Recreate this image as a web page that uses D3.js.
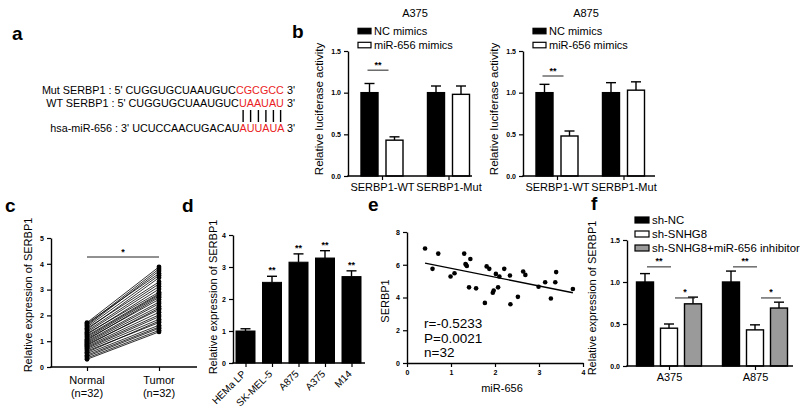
<!DOCTYPE html>
<html><head><meta charset="utf-8">
<script src="https://cdn.jsdelivr.net/npm/d3@7"></script>
<style>body{margin:0;background:#fff;} svg text{font-family:Arial,"Liberation Sans",sans-serif;fill:#000;}</style>
</head><body>
<svg id="fig" width="800" height="409"></svg>
<script>
// ---------------- DATA ----------------
// panel a: sequences [prefix, red part, suffix]
const seqMut = ["Mut SERBP1 : 5' CUGGUGCUAAUGUC", "CGCGCC", " 3'"];
const seqWT  = ["WT SERBP1 : 5' CUGGUGCUAAUGUC", "UAAUAU", " 3'"];
const seqMiR = ["hsa-miR-656 : 3' UCUCCAACUGACAU", "AUUAUA", " 3'"];

// panel b
const bGroups = ["SERBP1-WT", "SERBP1-Mut"];
const bSeries = ["NC mimics", "miR-656 mimics"];
const bA375Values = [[1.00, 0.43], [1.00, 0.98]];
const bA375Errors = [[0.11, 0.04], [0.08, 0.10]];
const bA875Values = [[1.00, 0.48], [1.00, 1.03]];
const bA875Errors = [[0.10, 0.06], [0.12, 0.10]];
const bTicks = [0, 0.5, 1.0, 1.5];

// panel c
const cCategories = ["Normal", "Tumor"];
const cNormal = [1.72,1.69,1.64,1.60,1.55,1.50,1.45,1.40,1.35,1.30,1.26,1.21,1.17,1.12,1.08,1.04,1.00,0.96,0.92,0.88,0.84,0.80,0.76,0.72,0.67,0.62,0.57,0.52,0.46,0.41,0.35,0.30];
const cTumor  = [3.88,3.62,3.80,3.72,3.55,3.30,3.46,3.22,3.12,2.90,3.02,2.84,2.80,2.75,2.62,2.70,2.52,2.45,2.35,2.22,2.28,2.12,2.02,1.95,1.85,1.72,1.78,1.62,1.55,1.50,1.42,1.36];
const cTicks = [0, 1, 2, 3, 4, 5];

// panel d
const dCells = ["HEMa LP", "SK-MEL-5", "A875", "A375", "M14"];
const dValues = [1.00, 2.52, 3.15, 3.28, 2.70];
const dErrors = [0.07, 0.19, 0.26, 0.23, 0.18];
const dSig = ["", "**", "**", "**", "**"];
const dTicks = [0, 1, 2, 3, 4];

// panel e
const eMiR = [0.41,0.58,0.71,0.99,1.08,1.30,1.33,1.34,1.36,1.44,1.41,1.57,1.77,1.81,1.87,1.95,1.97,2.02,2.07,2.10,2.21,2.35,2.34,2.52,2.64,2.69,2.99,3.14,3.27,3.37,3.39,3.77];
const eSERBP1 = [6.99,5.75,6.68,5.28,5.48,6.68,6.05,6.00,5.92,6.35,4.62,4.56,3.67,5.90,5.75,4.29,4.43,5.44,4.62,5.28,5.75,3.59,5.34,4.04,5.59,5.38,4.66,4.93,3.94,4.93,5.55,4.52];
const eXTicks = [0, 1, 2, 3, 4];
const eYTicks = [0, 2, 4, 6, 8];
const eStats = ["r=-0.5233", "P=0.0021", "n=32"];

// panel f
const fGroups = ["A375", "A875"];
const fSeries = ["sh-NC", "sh-SNHG8", "sh-SNHG8+miR-656 inhibitor"];
const fValues = [[1.00, 0.45, 0.74], [1.00, 0.43, 0.69]];
const fErrors = [[0.10, 0.05, 0.08], [0.13, 0.06, 0.07]];
const fTicks = [0, 0.5, 1.0, 1.5];

// ---------------- DRAWING ----------------
const svg = d3.select("#fig");
const RED = "#ea1d24";
const FONT = "Arial, 'Liberation Sans', sans-serif";

function panelLabel(t, x, y) {
  svg.append("text").attr("x", x).attr("y", y).attr("font-size", 19).attr("font-weight", "bold").attr("fill", "#000").text(t);
}
function styleYAxis(g) {
  g.select(".domain").attr("stroke", "#000").attr("stroke-width", 1.4);
  g.selectAll(".tick line").attr("stroke", "#000").attr("stroke-width", 1.2);
  g.selectAll(".tick text").attr("font-size", 7).attr("font-weight", "bold").attr("fill", "#000").attr("font-family", FONT);
}
function yAxis(scale, x, ticks, fmt) {
  const g = svg.append("g").attr("transform", `translate(${x},0)`);
  g.call(d3.axisLeft(scale).tickValues(ticks).tickFormat(fmt).tickSize(4).tickSizeOuter(0).tickPadding(3));
  styleYAxis(g);
  return g;
}
function xBaseline(x0, x1, y) {
  svg.append("line").attr("x1", x0 - 0.7).attr("x2", x1).attr("y1", y).attr("y2", y).attr("stroke", "#000").attr("stroke-width", 1.4);
}
function xTicks(scale, y, fontSize, label = true) {
  const g = svg.append("g").attr("transform", `translate(0,${y})`);
  g.call(d3.axisBottom(scale).tickSize(4).tickPadding(3));
  g.select(".domain").remove();
  g.selectAll(".tick line").attr("stroke", "#000").attr("stroke-width", 1.2);
  g.selectAll(".tick text").attr("font-size", fontSize).attr("fill", "#000").attr("font-family", FONT);
  if (!label) g.selectAll(".tick text").remove();
  return g;
}
function yLabel(t, x, cy, size) {
  svg.append("text").attr("transform", `translate(${x},${cy}) rotate(-90)`).attr("text-anchor", "middle")
    .attr("font-size", size).attr("fill", "#000").text(t);
}
function sigMark(x0, x1, y, t) {
  svg.append("line").attr("x1", x0).attr("x2", x1).attr("y1", y).attr("y2", y).attr("stroke", "#222").attr("stroke-width", 1);
  svg.append("text").attr("x", (x0 + x1) / 2).attr("y", y - 2.5).attr("text-anchor", "middle")
    .attr("font-size", 9).attr("font-weight", "bold").attr("fill", "#000").text(t);
}
function errBar(cx, yTop, yErr, cap) {
  svg.append("line").attr("x1", cx).attr("x2", cx).attr("y1", yTop).attr("y2", yErr).attr("stroke", "#000").attr("stroke-width", 1.4);
  svg.append("line").attr("x1", cx - cap / 2).attr("x2", cx + cap / 2).attr("y1", yErr).attr("y2", yErr).attr("stroke", "#000").attr("stroke-width", 1.4);
}

// ----- panel a -----
panelLabel("a", 12, 40);
const seqRows = [[seqMut, 94], [seqWT, 107], [seqMiR, 132]];
const seqTexts = seqRows.map(([s, y]) => {
  const t = svg.append("text").attr("x", 295).attr("y", y).attr("text-anchor", "end").attr("font-size", 10.8).attr("fill", "#000");
  t.append("tspan").text(s[0]);
  t.append("tspan").attr("fill", RED).text(s[1]);
  t.append("tspan").text(s[2]);
  return t;
});
{
  const node = seqTexts[2].node();
  const start = seqMiR[0].length;
  for (let i = 0; i < seqMiR[1].length; i++) {
    const ext = node.getExtentOfChar(start + i);
    const cx = ext.x + ext.width / 2;
    svg.append("line").attr("x1", cx).attr("x2", cx).attr("y1", 110).attr("y2", 122).attr("stroke", "#000").attr("stroke-width", 1.4);
  }
}

// ----- panel b -----
panelLabel("b", 292, 38);
function bPanel(opts) {
  const { ax, axEnd, title, titleX, values, errors, legX } = opts;
  const y = d3.scaleLinear().domain([0, 1.5]).range([176, 51]);
  const gx = d3.scalePoint().domain(bGroups).range([ax + 34, ax + 100.5]);
  const sx = d3.scalePoint().domain(bSeries).range([-12.5, 12.5]);
  const bw = 17;
  svg.append("text").attr("x", titleX).attr("y", 17).attr("text-anchor", "middle").attr("font-size", 11).attr("fill", "#000").text(title);
  bSeries.forEach((s, i) => {
    svg.append("rect").attr("x", legX).attr("y", 28.3 + i * 14).attr("width", 13).attr("height", 5.5)
      .attr("fill", i === 0 ? "#000" : "#fff").attr("stroke", "#000").attr("stroke-width", 1.2);
    svg.append("text").attr("x", legX + 16).attr("y", 31 + i * 14).attr("dy", "0.35em").attr("font-size", 11).attr("fill", "#000").text(s);
  });
  bGroups.forEach((g, gi) => {
    bSeries.forEach((s, si) => {
      const cx = gx(g) + sx(s);
      const v = values[gi][si], e = errors[gi][si];
      errBar(cx, y(v), y(v + e), 10);
      svg.append("rect").attr("x", cx - bw / 2).attr("y", y(v)).attr("width", bw).attr("height", y(0) - y(v))
        .attr("fill", si === 0 ? "#000" : "#fff").attr("stroke", "#000").attr("stroke-width", 1.4);
    });
  });
  yAxis(y, ax, bTicks, d3.format(".1f"));
  xBaseline(ax, axEnd, y(0));
  xTicks(gx, y(0), 11);
  yLabel("Relative luciferase activity", ax - 25, 109, 11.5);
  return { y, gx, sx };
}
const bL = bPanel({ ax: 348, axEnd: 472, title: "A375", titleX: 415, values: bA375Values, errors: bA375Errors, legX: 358 });
sigMark(bL.gx(bGroups[0]) + bL.sx(bSeries[0]) - 2, bL.gx(bGroups[0]) + bL.sx(bSeries[1]) - 6, bL.y(1.27), "**");
const bR = bPanel({ ax: 523, axEnd: 655, title: "A875", titleX: 586, values: bA875Values, errors: bA875Errors, legX: 533 });
sigMark(bR.gx(bGroups[0]) + bR.sx(bSeries[0]) - 2, bR.gx(bGroups[0]) + bR.sx(bSeries[1]) - 6, bR.y(1.2), "**");

// ----- panel c -----
panelLabel("c", 5, 212);
{
  const y = d3.scaleLinear().domain([0, 5]).range([367, 238]);
  const x = d3.scalePoint().domain(cCategories).range([87, 159]);
  cNormal.forEach((n, i) => {
    svg.append("line").attr("x1", x("Normal")).attr("x2", x("Tumor")).attr("y1", y(n)).attr("y2", y(cTumor[i]))
      .attr("stroke", "#000").attr("stroke-width", 0.8);
  });
  cNormal.forEach(n => svg.append("circle").attr("cx", x("Normal")).attr("cy", y(n)).attr("r", 2.4).attr("fill", "#000"));
  cTumor.forEach(t => svg.append("circle").attr("cx", x("Tumor")).attr("cy", y(t)).attr("r", 2.4).attr("fill", "#000"));
  yAxis(y, 51, cTicks, d3.format("d"));
  xBaseline(51, 197, y(0));
  xTicks(x, y(0), 11, false);
  cCategories.forEach(c => {
    svg.append("text").attr("x", x(c)).attr("y", 384).attr("text-anchor", "middle").attr("font-size", 11).attr("fill", "#000").text(c);
    svg.append("text").attr("x", x(c)).attr("y", 397).attr("text-anchor", "middle").attr("font-size", 11).attr("fill", "#000").text("(n=32)");
  });
  sigMark(x("Normal"), x("Tumor"), 257, "*");
  yLabel("Relative expression of SERBP1", 32, 295, 11);
}

// ----- panel d -----
panelLabel("d", 182, 212);
{
  const y = d3.scaleLinear().domain([0, 4]).range([363, 235]);
  const x = d3.scalePoint().domain(dCells).range([245.5, 351.5]);
  const bw = 19;
  dCells.forEach((c, i) => {
    const v = dValues[i], e = dErrors[i];
    errBar(x(c), y(v), y(v + e), 10);
    svg.append("rect").attr("x", x(c) - bw / 2).attr("y", y(v)).attr("width", bw).attr("height", y(0) - y(v))
      .attr("fill", "#000").attr("stroke", "#000").attr("stroke-width", 1);
    if (dSig[i]) svg.append("text").attr("x", x(c)).attr("y", y(v + e) - 3).attr("text-anchor", "middle")
      .attr("font-size", 9).attr("font-weight", "bold").attr("fill", "#000").text(dSig[i]);
  });
  yAxis(y, 233, dTicks, d3.format("d"));
  xBaseline(233, 365, y(0));
  const g = xTicks(x, y(0), 10);
  g.selectAll(".tick text").attr("text-anchor", "end").attr("x", 0).attr("y", 0).attr("dy", "0.35em")
    .attr("transform", "translate(-2,9) rotate(-45)");
  yLabel("Relative expression of SERBP1", 217, 297, 11);
}

// ----- panel e -----
panelLabel("e", 368, 211);
{
  const x = d3.scaleLinear().domain([0, 4]).range([407, 583]);
  const y = d3.scaleLinear().domain([0, 8]).range([363, 232]);
  const mx = d3.mean(eMiR), my = d3.mean(eSERBP1);
  const slope = d3.sum(eMiR, (v, i) => (v - mx) * (eSERBP1[i] - my)) / d3.sum(eMiR, v => (v - mx) ** 2);
  const icpt = my - slope * mx;
  const [xmin, xmax] = d3.extent(eMiR);
  svg.append("line").attr("x1", x(xmin)).attr("x2", x(xmax)).attr("y1", y(icpt + slope * xmin)).attr("y2", y(icpt + slope * xmax))
    .attr("stroke", "#000").attr("stroke-width", 1.4);
  eMiR.forEach((v, i) => svg.append("circle").attr("cx", x(v)).attr("cy", y(eSERBP1[i])).attr("r", 2.3).attr("fill", "#000"));
  yAxis(y, 407, eYTicks, d3.format("d"));
  const gx = svg.append("g").attr("transform", `translate(0,363)`);
  gx.call(d3.axisBottom(x).tickValues(eXTicks).tickFormat(d3.format("d")).tickSize(4).tickSizeOuter(0).tickPadding(3));
  styleYAxis(gx);
  svg.append("text").attr("x", 502).attr("y", 392).attr("text-anchor", "middle").attr("font-size", 11).attr("fill", "#000").text("miR-656");
  yLabel("SERBP1", 389, 301, 11);
  eStats.forEach((s, i) => svg.append("text").attr("x", 424).attr("y", 328 + i * 14.5).attr("font-size", 13.5).attr("fill", "#000").text(s));
}

// ----- panel f -----
panelLabel("f", 591, 210);
{
  const y = d3.scaleLinear().domain([0, 1.5]).range([366, 240]);
  const gx = d3.scalePoint().domain(fGroups).range([669, 755]);
  const sx = d3.scalePoint().domain(fSeries).range([-24, 24]);
  const fills = ["#000", "#fff", "#9a9a9a"];
  const bw = 17;
  fSeries.forEach((s, i) => {
    svg.append("rect").attr("x", 635).attr("y", 217 + i * 14).attr("width", 14).attr("height", 6)
      .attr("fill", fills[i]).attr("stroke", "#000").attr("stroke-width", 1.2);
    svg.append("text").attr("x", 652).attr("y", 220 + i * 14).attr("dy", "0.35em").attr("font-size", 11.4).attr("fill", "#000").text(s);
  });
  fGroups.forEach((g, gi) => {
    fSeries.forEach((s, si) => {
      const cx = gx(g) + sx(s);
      const v = fValues[gi][si], e = fErrors[gi][si];
      errBar(cx, y(v), y(v + e), 10);
      svg.append("rect").attr("x", cx - bw / 2).attr("y", y(v)).attr("width", bw).attr("height", y(0) - y(v))
        .attr("fill", fills[si]).attr("stroke", "#000").attr("stroke-width", 1.4);
    });
    sigMark(gx(g) + sx(fSeries[0]) + 2, gx(g) + sx(fSeries[1]) + 2, y(1.18), "**");
    sigMark(gx(g) + sx(fSeries[1]) + 6, gx(g) + sx(fSeries[2]) + 2, y(0.81), "*");
  });
  yAxis(y, 627, fTicks, d3.format(".1f"));
  xBaseline(627, 793, y(0));
  xTicks(gx, y(0), 11);
  yLabel("Relative expression of SERBP1", 596, 298, 11);
}
</script>
</body></html>
